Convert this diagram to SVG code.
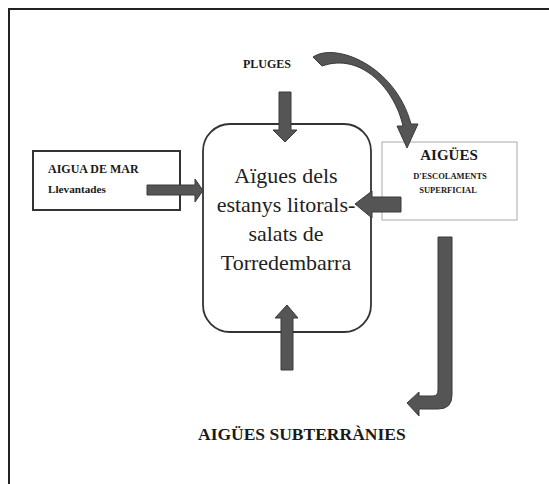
<svg xmlns="http://www.w3.org/2000/svg" width="549" height="484" viewBox="0 0 549 484">
<style>
.frame{stroke:#222;stroke-width:2;fill:none}
.arrow{fill:#555;stroke:#3a3a3a;stroke-width:1;stroke-linejoin:round}
.b{font-family:'Liberation Serif','DejaVu Serif',serif;font-weight:bold;fill:#1a1a1a}
.main{font-family:'Liberation Serif','DejaVu Serif',serif;font-size:22px;fill:#222;text-anchor:middle}
</style>
<rect x="0" y="0" width="549" height="484" fill="#fff"/>
<g id="frame">
<path class="frame" d="M9,484 V9 H549"/>
</g>
<g id="main-node">
<rect x="203" y="124" width="168" height="208" rx="27" ry="27" fill="#fff" stroke="#333" stroke-width="1.8"/>
<text class="main" x="286" y="183" font-family="Liberation Serif, serif">Aïgues dels</text>
<text class="main" x="286" y="212" font-family="Liberation Serif, serif">estanys litorals-</text>
<text class="main" x="286" y="241" font-family="Liberation Serif, serif">salats de</text>
<text class="main" x="286" y="270" font-family="Liberation Serif, serif">Torredembarra</text>
</g>
<g id="aigua-de-mar">
<rect x="33" y="151" width="147" height="59" fill="#fff" stroke="#333" stroke-width="2"/>
<text class="b" x="48" y="173" font-size="12">AIGUA DE MAR</text>
<text class="b" x="48" y="193" font-size="11.2">Llevantades</text>
</g>
<g id="aigues-escolament">
<rect x="382" y="142" width="135" height="78" fill="#fff" stroke="#aaa" stroke-width="1"/>
<text class="b" x="449" y="160" font-size="15" text-anchor="middle">AIGÜES</text>
<text class="b" x="450" y="179" font-size="8.5" text-anchor="middle">D'ESCOLAMENTS</text>
<text class="b" x="448" y="193" font-size="8.5" text-anchor="middle">SUPERFICIAL</text>
</g>
<g id="pluges">
<text class="b" x="267" y="68" font-size="12" text-anchor="middle">PLUGES</text>
</g>
<g id="aigues-subterranies">
<text class="b" x="198" y="440" font-size="17.5">AIGÜES SUBTERRÀNIES</text>
</g>
<g id="connectors">
<path class="arrow" d="M279,92 H291 V130 H297 L285,142 L273,130 H279 Z"/>
<path class="arrow" d="M281,370 H293 V318 H298 L287,305 L275,318 H281 Z"/>
<path class="arrow" d="M147,185 H195 V179 L203,190.5 L195,202 V195 H147 Z"/>
<path class="arrow" d="M401,197 H372 V191 L355,204 L372,218 V212 H401 Z"/>
<path class="arrow" d="M438,237 H452 V395 Q452,409 438,409 H419 V416 L407,403 L419,392 V396 H433 Q438,396 438,390 Z"/>
<path class="arrow" d="M313,57 C335,42 395,65 411,124 L418,124 L407,148 L397,126 L403,126 C395,90 362,52 322,66 Z"/>
</g>
</svg>
